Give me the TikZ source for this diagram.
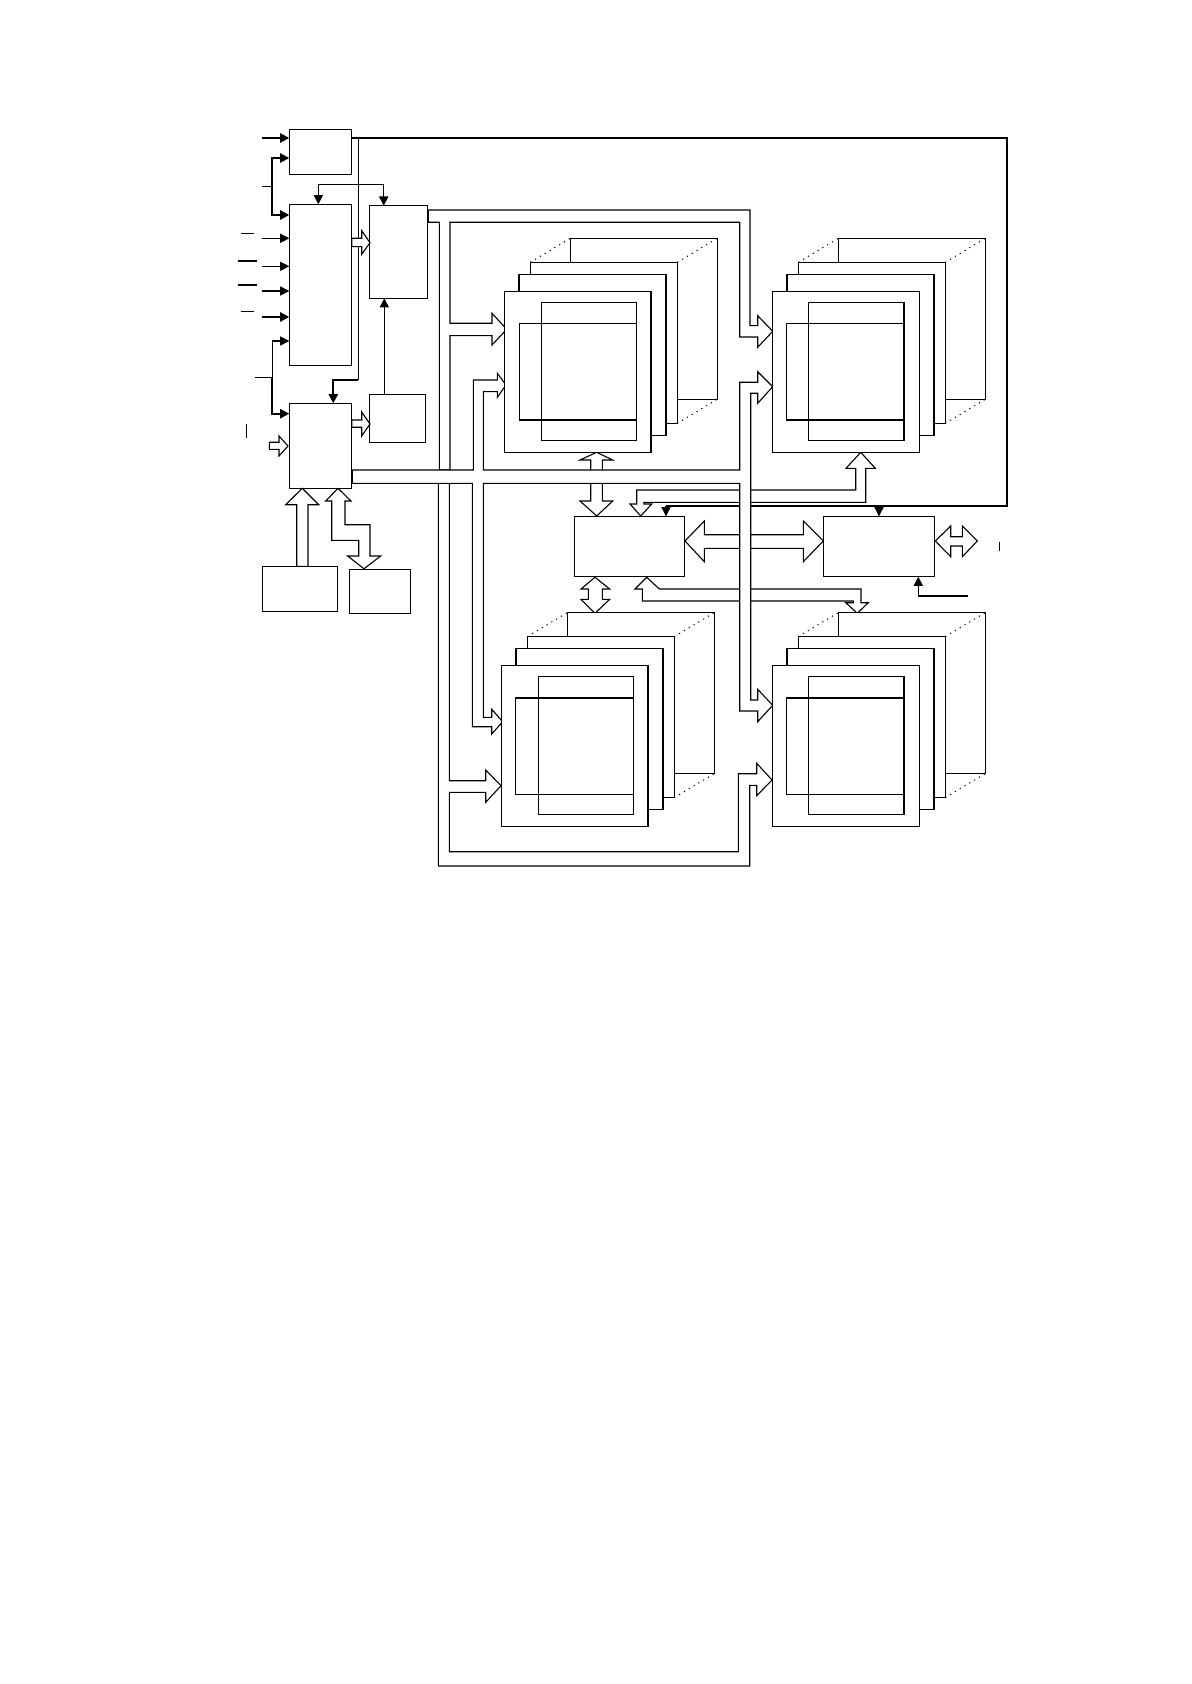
\documentclass[tikz,border=0pt]{standalone}
\usepackage{xcolor}
\usepackage{tikz}
\usetikzlibrary{arrows.meta,calc}

\begin{document}
\begin{tikzpicture}[
    x=0.5pt, y=-0.5pt,
    block/.style={rectangle, draw=black, fill=white, line width=0.55pt, inner sep=0pt, outer sep=0pt},
    sz/.style 2 args={minimum width=#1*0.5pt, minimum height=#2*0.5pt},
    inner/.style={block, fill=none},
    link/.style={line width=0.55pt},
    linkbold/.style={line width=1pt},
    sig/.style={-{Triangle[length=4.6pt,width=4.6pt]}, line width=0.55pt},
    sigbold/.style={-{Triangle[length=4.6pt,width=4.6pt]}, line width=1pt},
    bus/.style={draw=black, fill=white, line width=0.55pt, line join=miter},
    faint/.style={line width=0.5pt, dash pattern=on 0.6pt off 2.2pt}
]
  \useasboundingbox (0,0) rectangle (1191,1684);

  \node[block, sz={62.4}{45}] (ctl) at (320.5,151.8) {};
  \node[block, sz={62.4}{161.4}] (dec) at (320.5,285) {};
  \node[block, sz={62.4}{85}] (seq) at (320.5,445.8) {};
  \node[block, sz={58}{92.6}] (reg) at (398.7,252) {};
  \node[block, sz={55.6}{48}] (cnt) at (397.5,418.3) {};
  \node[block, sz={75}{45.4}] (rom) at (299.8,589) {};
  \node[block, sz={61}{44.3}] (ram) at (379.8,591.2) {};
  \node[block, sz={110}{60.4}] (gate) at (629.3,546.5) {};
  \node[block, sz={111.4}{60.4}] (port) at (879,546.5) {};

  % free ends of the inputs
  \coordinate (ina) at (262.3,138);
  \coordinate (inb) at (262.3,186.3);
  \coordinate (jb) at (272.3,186.3);
  \coordinate (jba) at (272.3,158);
  \coordinate (jbb) at (272.3,215);
  \coordinate (inc) at (262.3,238.3);
  \coordinate (ind) at (262.3,266.3);
  \coordinate (ine) at (262.3,291);
  \coordinate (inf) at (262.3,317);
  \coordinate (ing) at (255.3,377.3);
  \coordinate (jg) at (272.3,377.3);
  \coordinate (jga) at (272.3,341);
  \coordinate (jgb) at (272.3,413.7);

  \draw[sigbold] (ina) -- (ctl.west |- ina);
  \draw[link] (inb) -- (jb);
  \draw[sigbold] (jb) -- (jba) -- (ctl.west |- jba);
  \draw[sigbold] (jb) -- (jbb) -- (dec.west |- jbb);
  \draw[sig] (inc) -- (dec.west |- inc);
  \draw[sig] (ind) -- (dec.west |- ind);
  \draw[sig] (ine) -- (dec.west |- ine);
  \draw[sigbold] (inf) -- (dec.west |- inf);
  \draw[link] (ing) -- (jg);
  \draw[sig] (jg) -- (jga) -- (dec.west |- jga);
  \draw[sigbold] (jg) -- (jgb) -- (seq.west |- jgb);

  % bars left of the inputs
  \draw[link] (241.3,233.3) -- (254.3,233.3);
  \draw[link] (238,261) -- (257,261);
  \draw[link] (238,285) -- (257,285);
  \draw[link] (240.7,311.3) -- (254,311.3);
  \draw[link] (246.3,424.3) -- (246.3,437.7);
  \draw[link] (999.3,541.7) -- (999.3,550.7);

  % clock line round the top
  \coordinate (ne) at (1006.7,138);
  \coordinate (se) at (1006.7,506);
  \coordinate (gt) at (666,506);
  \coordinate (pt) at (879,506);
  \draw[link, line width=0.9pt] (ctl.east |- ne) -- (ne) -- (se) -- (gt);
  \draw[sig] (gt) -- (gate.north -| gt);
  \draw[sig] (pt) -- (port.north -| pt);

  \coordinate (dn) at (358.3,138);
  \coordinate (dm) at (358.3,380);
  \coordinate (dl) at (333.3,380);
  \draw[link] (dn) -- (dm);
  \draw[sigbold] (dm) -- (dl) -- (seq.north -| dl);

  \coordinate (ta) at (318.3,184.3);
  \coordinate (tb) at (383.7,184.3);
  \draw[sig] (ta) -- (dec.north -| ta);
  \draw[sig] (tb) -- (reg.north -| tb);
  \draw[link] (ta) -- (tb);

  \coordinate (cr) at (384.3,394.3);
  \draw[sig] (cr) -- (reg.south -| cr);

  \coordinate (pr) at (968.3,596);
  \coordinate (pb) at (918.3,596);
  \draw[sig] (pr) -- (pb) -- (port.south -| pb);

  % small block arrows
  \draw[bus] (351.7,238.3) -- (361.7,238.3) -- (361.7,230.7) -- (370,242.7) -- (361.7,254.3) -- (361.7,246.7) -- (351.7,246.7) -- cycle;
  \draw[bus] (351.7,420) -- (361.7,420) -- (361.7,412) -- (370,424) -- (361.7,436) -- (361.7,427.3) -- (351.7,427.3) -- cycle;
  \draw[bus] (269.3,442.3) -- (279,442.3) -- (279,436) -- (288,446) -- (279,456) -- (279,449.3) -- (269.3,449.3) -- cycle;
  \draw[bus] (296.7,566.3) -- (296.7,504.7) -- (285.7,504.7) -- (302.3,488.3) -- (318.7,504.7) -- (308,504.7) -- (308,566.3) -- cycle;
  \draw[bus] (338,488.3) -- (325.7,501) -- (331.7,501) -- (331.7,540.3) -- (358.7,540.3) -- (358.7,556) -- (347.7,556) -- (364,568.8) -- (380.7,556) -- (370,556) -- (370,524.7) -- (345,524.7) -- (345,501) -- (351,501) -- cycle;

  % block arrows round the gate
  \draw[bus] (596.7,452.3) -- (580,460) -- (590.7,460) -- (590.7,501) -- (580,501) -- (596.7,516) -- (612.7,501) -- (602.3,501) -- (602.3,460) -- (612.7,460) -- cycle;
  \draw[bus] (595,577.3) -- (581,589) -- (588.3,589) -- (588.3,599.3) -- (581,599.3) -- (595,613.3) -- (609.7,599.3) -- (602.3,599.3) -- (602.3,589) -- (609.7,589) -- cycle;
  \draw[bus] (685,541) -- (704.3,521) -- (704.3,534.7) -- (803.3,534.7) -- (803.3,521) -- (823.3,541) -- (803.3,561.7) -- (803.3,548.3) -- (704.3,548.3) -- (704.3,561.7) -- cycle;
  \draw[bus] (935.3,541) -- (950.7,526) -- (950.7,536.7) -- (962.3,536.7) -- (962.3,526) -- (977.3,541) -- (962.3,556.7) -- (962.3,546) -- (950.7,546) -- (950.7,556.7) -- cycle;
  \draw[bus] (860.7,452.3) -- (846,468.3) -- (855.7,468.3) -- (855.7,490) -- (636.7,490) -- (636.7,504) -- (630,504) -- (640.7,516) -- (651.7,504) -- (644,504) -- (644,502.3) -- (865.7,502.3) -- (865.7,468.3) -- (875.3,468.3) -- cycle;
  \draw[bus] (646.7,577.3) -- (635,589) -- (642.3,589) -- (642.3,601) -- (853.3,601) -- (853.3,602.7) -- (845.7,602.7) -- (857.3,613.3) -- (868.3,602.7) -- (861,602.7) -- (861,589) -- (659.3,589) -- cycle;

  % register bus, upper and lower part
  \draw[bus] (428.3,210) -- (750,210) -- (750,325.7) -- (757.7,325.7) -- (757.7,315.7) -- (772.7,331.3) -- (757.7,347.3) -- (757.7,337) -- (739.7,337) -- (739.7,222.3) -- (450,222.3) -- (450,323.3) -- (492,323.3) -- (492,313.3) -- (506.7,329.3) -- (492,345) -- (492,335.7) -- (450,335.7) -- (450,470) -- (439.3,470) -- (439.3,222.3) -- (428.3,222.3) -- cycle;
  \draw[bus] (438.3,483.3) -- (449.3,483.3) -- (449.3,780.7) -- (485.7,780.7) -- (485.7,770) -- (501,785.7) -- (485.7,802.3) -- (485.7,792.3) -- (449.3,792.3) -- (449.3,851.7) -- (738.3,851.7) -- (738.3,773.7) -- (756.7,773.7) -- (756.7,763.3) -- (772,780) -- (756.7,795.7) -- (756.7,785.3) -- (749.7,785.3) -- (749.7,866) -- (438.3,866) -- cycle;

  % sequencer bus, over everything it crosses
  \draw[bus] (352.3,470) -- (473.3,470) -- (473.3,380) -- (497.3,380) -- (497.3,373.3) -- (506,385) -- (497.3,397.3) -- (497.3,391.7) -- (483.3,391.7) -- (483.3,470) -- (739.7,470) -- (739.7,382.3) -- (757.7,382.3) -- (757.7,371.7) -- (772.7,386.7) -- (757.7,403.3) -- (757.7,393.3) -- (750.7,393.3) -- (750.7,700) -- (757.7,700) -- (757.7,689.3) -- (772.7,705.3) -- (757.7,721.7) -- (757.7,711) -- (739.7,711) -- (739.7,483.3) -- (483.3,483.3) -- (483.3,717.3) -- (491.7,717.3) -- (491.7,709.3) -- (502.7,721.7) -- (491.7,734) -- (491.7,726.7) -- (472.3,726.7) -- (472.3,483.3) -- (352.3,483.3) -- cycle;

  % stacks of planes
  \foreach \cn/\cx/\cy/\ux/\lx in {a/504.3/291.3/84.7/73.7, b/772.3/291.3/84/73.2, c/501.3/665.6/84.7/73.2, d/772.3/665.6/84/73.2} {
    \begin{scope}[shift={(\cx,\cy)}]
      \node[block, sz={147}{161}] (back\cn) at (139.5,27.5) {};
      \node[block, sz={147}{161}] (third\cn) at (99.5,51.5) {};
      \node[block, sz={147}{161}] (second\cn) at (88.2,63.5) {};
      \node[block, sz={147}{161}] (front\cn) at (73.5,80.5) {};
      \node[inner, sz={95.4}{138}] (upper\cn) at (\ux,80) {};
      \node[inner, sz={117.4}{96.7}] (lower\cn) at (\lx,80.35) {};
      \draw[faint] (third\cn.north west) -- (back\cn.north west);
      \draw[faint] (third\cn.north east) -- (back\cn.north east);
      \draw[faint] (third\cn.south east) -- (back\cn.south east);
    \end{scope}
  }

  % heavier edges
  \draw[linkbold] (lowera.south west) -- (lowera.south east);
  \draw[linkbold] (fronta.north east) -- (fronta.south east);
  \draw[linkbold] (lowerb.south west) -- (lowerb.south east);
  \draw[linkbold] (upperb.north east) -- (upperb.south east);
  \draw[linkbold] (lowerc.north west) -- (lowerc.north east);
  \draw[linkbold] (frontc.north east) -- (frontc.south east);
  \draw[linkbold] (lowerd.north west) -- (lowerd.north east);
  \draw[linkbold] (upperd.north east) -- (upperd.south east);
\end{tikzpicture}
\end{document}
